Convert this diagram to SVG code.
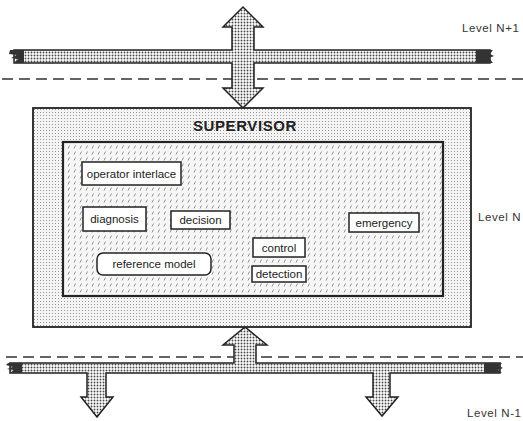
<svg xmlns="http://www.w3.org/2000/svg" width="523" height="421" viewBox="0 0 523 421">
<defs>
<pattern id="dots" width="3" height="3" patternUnits="userSpaceOnUse">
<rect width="3" height="3" fill="#fff"/>
<circle cx="1.5" cy="1.5" r="0.95" fill="#4a4a4a"/>
</pattern>
<pattern id="stipple" width="3" height="3" patternUnits="userSpaceOnUse">
<rect width="3" height="3" fill="#f4f4f4"/>
<rect x="1" y="1" width="1" height="1" fill="#9a9a9a"/>
</pattern>
<pattern id="hatch" width="6" height="6" patternUnits="userSpaceOnUse">
<rect width="6" height="6" fill="#f6f6f6"/>
<line x1="2" y1="4.5" x2="3.5" y2="1.5" stroke="#777" stroke-width="0.8"/>
</pattern>
<style>
.bus{fill:url(#dots);stroke:#222;stroke-width:1.5;stroke-linejoin:miter}
.end{fill:#333}
.dash{stroke:#333;stroke-width:1.5;stroke-dasharray:11 6;fill:none}
.box{fill:#fff;stroke:#222;stroke-width:1.5}
.lbl{font-family:"Liberation Sans",Arial,sans-serif;font-size:11.5px;fill:#222}
.lvl{font-family:"Liberation Sans",Arial,sans-serif;font-size:11.5px;fill:#333;letter-spacing:0.6px}
</style>
</defs>
<rect width="523" height="421" fill="#fff"/>
<g id="levels">
<line class="dash" x1="2" y1="79" x2="523" y2="79"/>
<line class="dash" x1="6" y1="357" x2="523" y2="357"/>
<text class="lvl" x="462" y="32">Level N+1</text>
<text class="lvl" x="478" y="221">Level N</text>
<text class="lvl" x="467" y="417">Level N-1</text>
</g>
<g id="connectors">
<path class="bus" d="M14,50 L232,50 L232,27 L223,27 L243,7 L263,27 L254,27 L254,50 L490,50 L490,63 L254,63 L254,88 L263,88 L243,108 L223,88 L232,88 L232,63 L14,63 Z"/>
<polygon class="end" points="10,50 24,50 24,63 14,63 18,59 11,58 17,55 9,54"/>
<polygon class="end" points="476,50 493,50 490,54 494,56 489,58 493,63 476,63"/>
<path class="bus" d="M10,363 L234,363 L234,345 L223,345 L245,327 L267,345 L256,345 L256,363 L500,363 L500,373 L390,373 L390,397 L398,397 L382,416 L366,397 L373,397 L373,373 L106,373 L106,397 L113,397 L97,417 L81,397 L87,397 L87,373 L10,373 Z"/>
<polygon class="end" points="8,363 22,363 22,373 10,373 14,370 7,369 13,367 6,365"/>
<polygon class="end" points="484,363 502,363 499,366 503,368 498,370 502,373 484,373"/>
</g>
<g id="supervisor">
<rect x="33" y="108" width="438" height="219" fill="url(#stipple)" stroke="#222" stroke-width="1.8"/>
<text x="245" y="131" text-anchor="middle" font-family="'Liberation Sans',Arial,sans-serif" font-size="15" font-weight="bold" letter-spacing="0.6" fill="#222">SUPERVISOR</text>
<rect x="63" y="142" width="380" height="154" fill="url(#hatch)" stroke="#222" stroke-width="2.2"/>
</g>
<g id="operator-interface">
<rect class="box" x="82" y="162" width="99" height="23"/>
<text class="lbl" x="131.5" y="177.5" text-anchor="middle">operator interlace</text>
</g>
<g id="diagnosis">
<rect class="box" x="83" y="207" width="63" height="24"/>
<text class="lbl" x="114.5" y="222.5" text-anchor="middle">diagnosis</text>
</g>
<g id="decision">
<rect class="box" x="171" y="211" width="59" height="18"/>
<text class="lbl" x="200.5" y="224" text-anchor="middle">decision</text>
</g>
<g id="reference-model">
<rect class="box" x="97" y="253" width="114" height="22" rx="6"/>
<text class="lbl" x="154" y="268" text-anchor="middle">reference model</text>
</g>
<g id="emergency">
<rect class="box" x="349" y="213" width="70" height="19"/>
<text class="lbl" x="384" y="226.5" text-anchor="middle">emergency</text>
</g>
<g id="control">
<rect class="box" x="253" y="238" width="52" height="19"/>
<text class="lbl" x="279" y="251.5" text-anchor="middle">control</text>
</g>
<g id="detection">
<rect class="box" x="252" y="266" width="54" height="16"/>
<text class="lbl" x="279" y="278" text-anchor="middle">detection</text>
</g>
</svg>
